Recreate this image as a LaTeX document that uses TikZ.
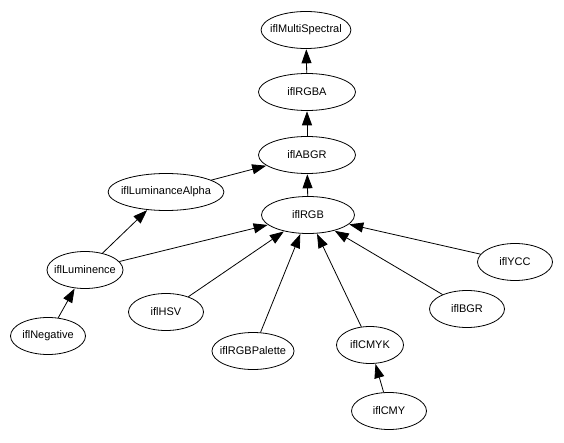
\documentclass[tikz,border=0pt]{standalone}
\usepackage{fontspec}
\setmainfont{Liberation Sans}
\usetikzlibrary{arrows.meta, shapes.geometric}

\begin{document}
\begin{tikzpicture}[x=1pt, y=-1pt,
  every node/.style={font=\fontsize{11}{13}\selectfont},
  cls/.style={ellipse, draw, line width=0.8pt, minimum width=75pt, minimum height=37pt,
    inner xsep=-4pt, inner ysep=0pt},
  isa/.style={-{Triangle[length=14pt, width=10pt]}, line width=0.8pt, shorten >=0.4pt}]
  \useasboundingbox (0,0) rectangle (564,443);
  % Upper chain
  \node[cls] (ms)   at (306,30)  {iflMultiSpectral};
  \node[cls, minimum width=97pt] (rgba) at (307,92)  {iflRGBA};
  \node[cls, minimum width=97pt] (abgr) at (307,155) {iflABGR};
  \node[cls] (la)   at (166,192) {iflLuminanceAlpha};
  \node[cls, minimum width=93pt] (rgb)  at (308,215) {iflRGB};
  % Lower row
  \node[cls] (lum)  at (85,270)  {iflLuminence};
  \node[cls] (neg)  at (48,336)  {iflNegative};
  \node[cls] (hsv)  at (166,312) {iflHSV};
  \node[cls] (pal)  at (253,351) {iflRGBPalette};
  \node[cls, minimum width=67pt] (cmyk) at (370,345) {iflCMYK};
  \node[cls] (cmy)  at (389,411) {iflCMY};
  \node[cls] (bgr)  at (467,309) {iflBGR};
  \node[cls] (ycc)  at (515,262) {iflYCC};
  % Inheritance arrows
  \draw[isa] (rgba) -- (ms);
  \draw[isa] (abgr) -- (rgba);
  \draw[isa] (la) -- (abgr);
  \draw[isa] (rgb) -- (abgr);
  \draw[isa] (lum) -- (la);
  \draw[isa] (lum) -- (rgb);
  \draw[isa] (neg) -- (lum);
  \foreach \n in {hsv, pal, cmyk, bgr, ycc} {
    \draw[isa] (\n) -- (rgb);
  }
  \draw[isa] (cmy) -- (cmyk);
\end{tikzpicture}
\end{document}
